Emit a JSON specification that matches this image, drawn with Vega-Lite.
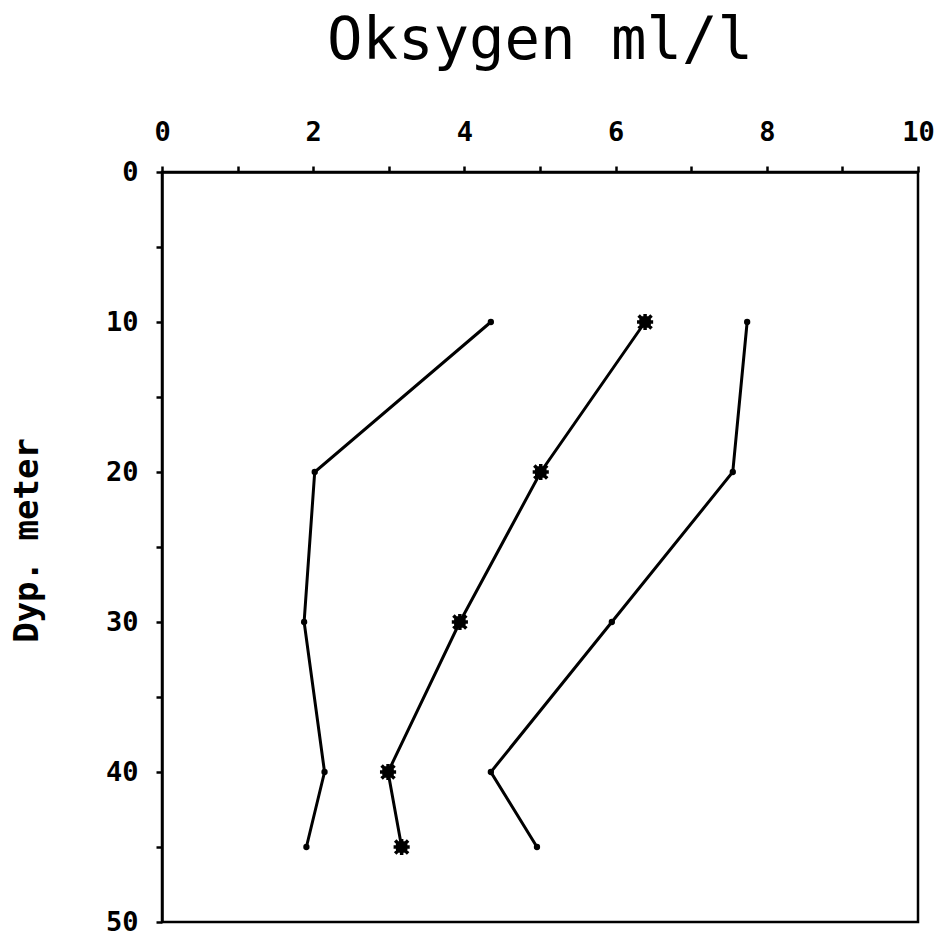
{
  "$schema": "https://vega.github.io/schema/vega-lite/v6.json",
  "autosize": "none",
  "width": 756,
  "height": 750,
  "padding": {"left": 162, "top": 172, "right": 30, "bottom": 13},
  "background": "white",
  "title": {
    "text": "Oksygen ml/l",
    "font": "DejaVu Sans Mono",
    "fontSize": 59,
    "fontWeight": "normal",
    "color": "black",
    "anchor": "middle",
    "baseline": "alphabetic",
    "offset": 0
  },
  "config": {
    "view": {"stroke": "black", "strokeWidth": 2.5},
    "axis": {
      "domainColor": "black",
      "domainWidth": 2.5,
      "tickColor": "black",
      "tickWidth": 2.5,
      "tickSize": 6,
      "labelFont": "DejaVu Sans Mono",
      "labelFontWeight": "bold",
      "labelFontSize": 27,
      "labelColor": "black",
      "grid": false,
      "titleFont": "DejaVu Sans Mono",
      "titleFontWeight": "bold",
      "titleColor": "black"
    }
  },
  "data": {
    "values": [
      {"serie": "A", "oksygen": 4.35, "dyp": 10},
      {"serie": "A", "oksygen": 2.02, "dyp": 20},
      {"serie": "A", "oksygen": 1.88, "dyp": 30},
      {"serie": "A", "oksygen": 2.15, "dyp": 40},
      {"serie": "A", "oksygen": 1.91, "dyp": 45},
      {"serie": "B", "oksygen": 6.39, "dyp": 10},
      {"serie": "B", "oksygen": 5.01, "dyp": 20},
      {"serie": "B", "oksygen": 3.94, "dyp": 30},
      {"serie": "B", "oksygen": 2.99, "dyp": 40},
      {"serie": "B", "oksygen": 3.17, "dyp": 45},
      {"serie": "C", "oksygen": 7.74, "dyp": 10},
      {"serie": "C", "oksygen": 7.55, "dyp": 20},
      {"serie": "C", "oksygen": 5.95, "dyp": 30},
      {"serie": "C", "oksygen": 4.35, "dyp": 40},
      {"serie": "C", "oksygen": 4.96, "dyp": 45}
    ]
  },
  "encoding": {
    "x": {
      "field": "oksygen",
      "type": "quantitative",
      "scale": {"domain": [0, 10], "nice": false, "zero": false},
      "axis": {
        "orient": "top",
        "title": null,
        "values": [0, 1, 2, 3, 4, 5, 6, 7, 8, 9, 10],
        "labelExpr": "datum.value % 2 == 0 ? datum.label : ''",
        "labelPadding": 20,
        "labelFlush": false,
        "labelOverlap": false
      }
    },
    "y": {
      "field": "dyp",
      "type": "quantitative",
      "scale": {"domain": [0, 50], "nice": false, "reverse": true},
      "axis": {
        "orient": "left",
        "title": "Dyp. meter",
        "titleFontSize": 34,
        "titleX": -125,
        "titleY": 368,
        "titleAngle": -90,
        "titleBaseline": "alphabetic",
        "values": [0, 5, 10, 15, 20, 25, 30, 35, 40, 45, 50],
        "labelExpr": "datum.value % 10 == 0 ? datum.label : ''",
        "labelPadding": 18,
        "labelFlush": false,
        "labelOverlap": false
      }
    },
    "detail": {"field": "serie", "type": "nominal"}
  },
  "layer": [
    {
      "mark": {"type": "line", "color": "black", "strokeWidth": 3},
      "encoding": {"order": {"field": "dyp", "type": "quantitative"}}
    },
    {
      "transform": [{"filter": "datum.serie != 'B'"}],
      "mark": {"type": "point", "shape": "circle", "filled": true, "color": "black", "opacity": 1, "size": 40}
    },
    {
      "transform": [{"filter": "datum.serie == 'B'"}],
      "mark": {
        "type": "point",
        "shape": "M-1,0L1,0M0,-1L0,1M-0.8,-0.8L0.8,0.8M-0.8,0.8L0.8,-0.8M-0.5,-0.5L-0.5,0.5L0.5,0.5L0.5,-0.5Z",
        "filled": false,
        "color": "black",
        "opacity": 1,
        "strokeWidth": 3.5,
        "size": 260
      }
    }
  ]
}
